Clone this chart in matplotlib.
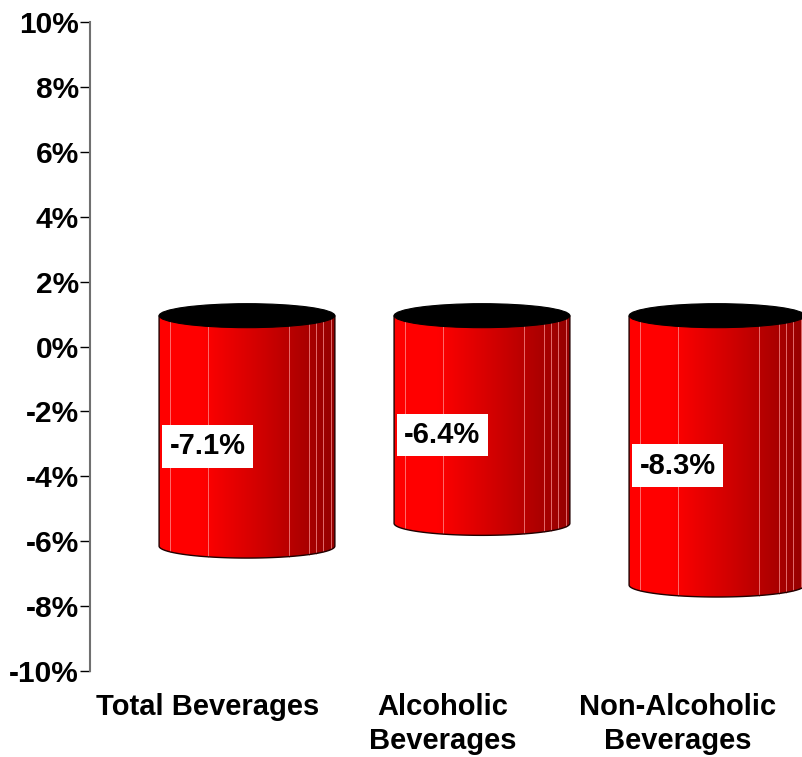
import numpy as np
import matplotlib
matplotlib.use("Agg")
import matplotlib.pyplot as plt
from matplotlib.patches import Ellipse, PathPatch
from matplotlib.path import Path

plt.rcParams['font.family'] = ['Liberation Sans', 'DejaVu Sans']
plt.rcParams['font.weight'] = 'bold'

# --- chart data ---
categories = ["Total Beverages", "Alcoholic\nBeverages", "Non-Alcoholic\nBeverages"]
values = [-7.1, -6.4, -8.3]
value_labels = ["-7.1%", "-6.4%", "-8.3%"]
y_ticks = [-10, -8, -6, -4, -2, 0, 2, 4, 6, 8, 10]
y_tick_labels = ["-10%", "-8%", "-6%", "-4%", "-2%", "0%", "2%", "4%", "6%", "8%", "10%"]

# --- cylinder geometry (category units / percent units) ---
half_w = 0.374      # half width of a cylinder
depth_dx = 0.168    # oblique depth offset, x
depth_dy = 0.95     # oblique depth offset, y
ell_h = 0.37        # vertical semi-axis of the end ellipses
facet_u = [0.06, 0.28, 0.74, 0.85, 0.89, 0.93, 0.98]

fig = plt.figure(figsize=(8.03, 7.57), dpi=100)
ax = fig.add_axes([90 / 803, 86 / 757, 705 / 803, 649 / 757])

# horizontal shading: bright red on the left fading to dark red on the right
ncol = 256
u = np.linspace(0, 1, ncol)
red = np.where(u < 0.25, 1.0, 1.0 - 0.42 * (u - 0.25) / 0.75)
grad = np.zeros((1, ncol, 3))
grad[0, :, 0] = red

for i, (v, lab) in enumerate(zip(values, value_labels)):
    cx = i + depth_dx
    x0, x1 = cx - half_w, cx + half_w
    ytop = 0 + depth_dy
    ybot = v + depth_dy

    # body outline: straight sides plus the front half of the bottom ellipse
    t = np.linspace(np.pi, 2 * np.pi, 80)
    arc_x = cx + half_w * np.cos(t)
    arc_y = ybot + ell_h * np.sin(t)
    verts = [(x0, ytop)] + list(zip(arc_x, arc_y)) + [(x1, ytop), (x0, ytop)]
    body = Path(verts, closed=True)
    patch = PathPatch(body, facecolor='none', edgecolor='#200000', lw=1.0,
                      zorder=3, clip_on=False)
    ax.add_patch(patch)

    im = ax.imshow(grad, extent=(x0, x1, ybot - ell_h, ytop), aspect='auto',
                   zorder=2, interpolation='bilinear')
    im.set_clip_box(fig.bbox)
    im.set_clip_path(PathPatch(body, transform=ax.transData))

    # faint facet edges on the side of the cylinder
    for fu in facet_u:
        fx = x0 + fu * 2 * half_w
        c = (fx - cx) / half_w
        fy = ybot - ell_h * np.sqrt(max(0.0, 1 - c * c))
        ax.plot([fx, fx], [ytop, fy], color='#ff9a9a', lw=0.7, alpha=0.7,
                zorder=2.5, clip_on=False)

    # dark top cap
    top = Ellipse((cx, ytop), 2 * half_w, 2 * ell_h, facecolor='black',
                  edgecolor='black', lw=0.8, zorder=4, clip_on=False)
    ax.add_patch(top)

    # value label in a white box
    ax.text(i, v / 2 + depth_dy / 2, lab, ha='center', va='center',
            fontsize=21, fontweight='bold', color='black', zorder=5,
            bbox=dict(boxstyle='square,pad=0.25', facecolor='white',
                      edgecolor='none'))

ax.set_xlim(-0.5, 2.5)
ax.set_ylim(-10, 10)

for s in ['top', 'right', 'bottom']:
    ax.spines[s].set_visible(False)
ax.spines['left'].set_color('#707070')
ax.spines['left'].set_linewidth(1.5)

ax.set_yticks(y_ticks)
ax.set_yticklabels(y_tick_labels, fontsize=21.5, fontweight='bold')
ax.tick_params(axis='y', direction='out', length=7, width=1, color='black', pad=1)

ax.set_xticks(range(len(categories)))
ax.set_xticklabels(categories, fontsize=21, fontweight='bold', linespacing=1.25)
ax.tick_params(axis='x', length=0, pad=16)

fig.savefig("out.png", dpi=100)
